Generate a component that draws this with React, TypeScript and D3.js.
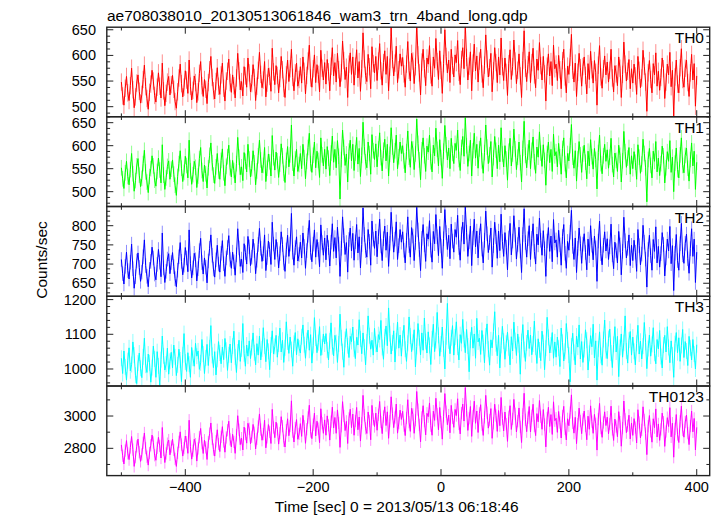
import React from "react";
import * as d3 from "d3";

const title = "ae708038010_20130513061846_wam3_trn_4band_long.qdp";
const xLabel = "Time [sec] 0 = 2013/05/13 06:18:46";
const yLabel = "Counts/sec";
const bandNames = ["TH0", "TH1", "TH2", "TH3", "TH0123"];
const bandColors = ["#ff0000", "#00ff00", "#0000ff", "#00ffff", "#ff00ff"];
const timeStart = -500;
const timeStep = 2;

const th0 = [
  548, 521, 503, 536, 559, 527, 512, 541, 575, 533, 498, 519, 546, 562, 530, 507, 524, 553, 581, 539,
  516, 495, 528, 544, 571, 550, 522, 509, 538, 566, 540, 517, 585, 531, 502, 526, 548, 559, 523, 543,
  561, 534, 510, 497, 529, 556, 583, 545, 519, 538, 570, 552, 526, 591, 540, 513, 532, 560, 547, 508,
  529, 565, 588, 541, 520, 553, 534, 506, 547, 572, 598, 557, 531, 515, 549, 576, 540, 524, 562, 585,
  536, 511, 550, 569, 593, 547, 528, 562, 541, 517, 556, 604, 570, 533, 549, 521, 578, 560, 538, 595,
  566, 529, 545, 582, 557, 512, 540, 571, 606, 563, 537, 552, 588, 519, 546, 575, 559, 530, 614, 568,
  543, 580, 561, 527, 555, 598, 572, 536, 518, 562, 591, 549, 574, 612, 557, 531, 566, 585, 540, 553,
  578, 546, 597, 569, 525, 561, 589, 620, 556, 538, 574, 601, 547, 582, 563, 529, 610, 575, 552, 586,
  544, 592, 568, 531, 579, 615, 560, 586, 548, 604, 572, 539, 566, 628, 590, 553, 577, 518, 583, 605,
  563, 597, 542, 579, 611, 556, 588, 530, 574, 644, 593, 561, 549, 602, 578, 535, 617, 584, 566, 598,
  551, 589, 623, 570, 542, 586, 609, 563, 598, 531, 577, 655, 592, 560, 585, 618, 547, 572, 603, 579,
  596, 564, 538, 583, 627, 571, 550, 604, 589, 545, 578, 662, 601, 566, 523, 587, 612, 574, 541, 595,
  583, 619, 562, 540, 597, 575, 633, 588, 553, 609, 571, 526, 584, 650, 598, 566, 591, 547, 612, 580,
  558, 601, 586, 629, 567, 543, 592, 615, 574, 660, 596, 552, 579, 607, 531, 585, 622, 570, 599, 548,
  589, 612, 564, 537, 581, 640, 593, 558, 576, 604, 529, 570, 615, 586, 547, 597, 562, 634, 578, 551,
  595, 567, 522, 584, 611, 553, 578, 630, 589, 545, 571, 603, 560, 518, 590, 648, 575, 549, 582, 607,
  547, 586, 614, 562, 537, 593, 571, 625, 580, 552, 598, 564, 511, 579, 603, 560, 588, 541, 620, 574,
  583, 551, 600, 572, 535, 590, 612, 558, 527, 579, 563, 596, 641, 571, 548, 585, 520, 567, 604, 576,
  540, 578, 597, 561, 525, 584, 553, 608, 572, 546, 590, 567, 503, 581, 619, 558, 536, 574, 599, 562,
  587, 548, 571, 612, 556, 529, 580, 564, 541, 597, 575, 518, 563, 626, 583, 550, 569, 592, 535, 574,
  546, 583, 560, 524, 598, 571, 537, 556, 610, 579, 548, 491, 566, 590, 553, 527, 584, 562, 605, 540,
  569, 532, 557, 595, 574, 516, 548, 583, 562, 606, 539, 571, 482, 558, 591, 544, 527, 576, 613, 553,
  538, 575, 591, 547, 520, 566, 602, 552, 584, 501, 560,
];

const th1 = [
  552, 528, 507, 541, 566, 533, 515, 548, 583, 539, 501, 524, 556, 572, 536, 511, 529, 561, 590, 543,
  521, 498, 533, 550, 578, 556, 525, 512, 544, 573, 547, 519, 602, 536, 505, 530, 555, 567, 527, 549,
  569, 538, 514, 492, 533, 561, 589, 551, 522, 542, 577, 557, 530, 612, 545, 516, 537, 566, 553, 509,
  534, 572, 596, 546, 522, 558, 539, 508, 552, 579, 606, 563, 536, 518, 554, 583, 545, 527, 568, 593,
  541, 513, 555, 576, 601, 552, 532, 568, 546, 519, 561, 618, 575, 537, 554, 524, 585, 566, 543, 603,
  571, 532, 550, 589, 563, 515, 545, 578, 612, 569, 541, 557, 596, 522, 551, 582, 565, 534, 622, 574,
  547, 586, 567, 531, 560, 604, 578, 540, 520, 568, 598, 554, 580, 645, 562, 534, 571, 592, 544, 559,
  583, 550, 603, 574, 528, 566, 596, 627, 561, 542, 579, 608, 552, 588, 568, 531, 617, 580, 556, 592,
  549, 598, 573, 535, 584, 621, 564, 592, 552, 611, 577, 484, 570, 634, 596, 557, 582, 521, 588, 612,
  567, 603, 546, 584, 618, 560, 594, 533, 579, 651, 598, 565, 552, 608, 583, 538, 624, 589, 570, 604,
  554, 593, 628, 574, 545, 590, 614, 567, 603, 534, 581, 639, 597, 563, 589, 623, 550, 576, 608, 583,
  600, 567, 541, 587, 632, 575, 553, 609, 593, 548, 582, 658, 605, 569, 526, 591, 617, 578, 544, 599,
  586, 623, 565, 543, 601, 578, 638, 592, 556, 613, 574, 529, 588, 644, 602, 569, 595, 550, 616, 583,
  561, 605, 590, 634, 570, 546, 596, 620, 577, 661, 600, 555, 583, 612, 534, 589, 627, 573, 603, 551,
  593, 617, 567, 540, 585, 645, 597, 561, 580, 609, 532, 574, 620, 590, 550, 601, 565, 639, 582, 554,
  600, 571, 525, 588, 616, 556, 582, 636, 593, 548, 575, 608, 563, 521, 594, 653, 579, 552, 586, 612,
  550, 590, 619, 565, 540, 597, 575, 630, 584, 555, 602, 568, 514, 583, 608, 563, 592, 544, 625, 578,
  587, 554, 605, 576, 538, 594, 617, 561, 530, 583, 567, 600, 646, 575, 551, 589, 523, 571, 609, 580,
  542, 582, 601, 564, 528, 588, 556, 613, 576, 549, 594, 570, 506, 585, 623, 561, 539, 578, 603, 566,
  591, 551, 575, 616, 559, 532, 584, 568, 544, 601, 579, 521, 567, 631, 587, 553, 573, 596, 538, 578,
  550, 587, 564, 527, 602, 575, 540, 560, 614, 583, 552, 478, 570, 594, 557, 530, 588, 566, 609, 543,
  573, 535, 561, 599, 578, 519, 552, 587, 566, 611, 542, 575, 500, 562, 595, 548, 530, 580, 617, 557,
  541, 579, 595, 551, 523, 570, 606, 556, 588, 505, 564,
];

const th2 = [
  712, 675, 648, 694, 731, 683, 661, 705, 752, 688, 637, 667, 708, 729, 691, 655, 679, 719, 763, 696,
  668, 641, 686, 707, 744, 716, 674, 659, 699, 738, 705, 667, 781, 690, 652, 681, 713, 727, 675, 704,
  730, 693, 662, 641, 684, 719, 756, 707, 672, 697, 743, 716, 680, 789, 701, 664, 690, 728, 711, 656,
  688, 735, 767, 704, 674, 716, 692, 651, 708, 741, 776, 723, 687, 666, 711, 749, 700, 679, 728, 761,
  701, 668, 716, 743, 774, 712, 689, 731, 706, 671, 724, 792, 742, 694, 713, 678, 753, 730, 700, 772,
  745, 696, 718, 765, 735, 675, 710, 751, 793, 741, 707, 727, 776, 683, 717, 760, 738, 699, 809, 752,
  712, 764, 738, 690, 727, 784, 751, 703, 681, 737, 775, 720, 752, 832, 731, 697, 743, 771, 708, 725,
  757, 716, 781, 746, 689, 735, 775, 814, 730, 706, 752, 789, 718, 764, 738, 693, 802, 756, 723, 768,
  711, 775, 743, 695, 757, 805, 733, 769, 716, 796, 752, 668, 741, 823, 774, 725, 756, 679, 764, 794,
  734, 780, 710, 758, 803, 729, 771, 690, 751, 846, 777, 735, 718, 790, 759, 697, 812, 765, 741, 786,
  719, 771, 817, 747, 709, 766, 799, 736, 783, 694, 754, 835, 778, 731, 765, 810, 712, 748, 790, 757,
  784, 736, 703, 762, 823, 748, 718, 795, 773, 709, 756, 848, 789, 738, 683, 767, 803, 750, 707, 779,
  765, 813, 736, 705, 785, 753, 829, 771, 722, 798, 747, 689, 766, 842, 782, 738, 775, 714, 804, 760,
  731, 790, 770, 827, 743, 710, 778, 809, 752, 850, 783, 720, 758, 799, 696, 768, 817, 745, 786, 716,
  774, 805, 739, 703, 762, 838, 779, 730, 756, 794, 692, 748, 809, 771, 715, 786, 735, 830, 759, 720,
  782, 744, 685, 768, 806, 724, 760, 826, 776, 713, 751, 796, 734, 678, 777, 844, 756, 718, 766, 800,
  712, 767, 805, 733, 700, 778, 750, 820, 762, 723, 787, 740, 668, 760, 795, 733, 773, 706, 816, 755,
  763, 718, 788, 750, 697, 772, 803, 728, 689, 759, 736, 783, 840, 746, 712, 768, 678, 741, 794, 753,
  702, 752, 779, 730, 685, 765, 722, 800, 749, 711, 773, 742, 655, 760, 812, 727, 698, 749, 784, 734,
  766, 712, 745, 804, 724, 688, 757, 735, 703, 785, 750, 672, 733, 822, 761, 716, 741, 776, 696, 749,
  709, 762, 731, 681, 790, 748, 698, 726, 801, 757, 713, 640, 738, 775, 722, 684, 764, 733, 797, 703,
  746, 692, 727, 782, 751, 669, 716, 765, 734, 798, 701, 748, 631, 728, 777, 709, 684, 753, 806, 724,
  702, 754, 778, 714, 676, 740, 792, 720, 765, 652, 731,
];

const th3 = [
  1031, 987, 1052, 1006, 968, 1024, 1061, 995, 1013, 1078, 1040, 982, 958, 1017, 1046, 1002, 975, 1035, 1089, 1011,
  990, 1043, 1018, 962, 1004, 1066, 1029, 976, 1050, 1009, 953, 1027, 1095, 1038, 997, 1014, 1060, 985, 1022, 1048,
  1003, 1069, 1035, 981, 1012, 1057, 1026, 964, 1041, 1102, 1020, 993, 1047, 1014, 976, 1062, 1031, 1008, 1074, 1037,
  1052, 999, 1018, 1085, 1043, 987, 1032, 1071, 1010, 1061, 1125, 1039, 1004, 1050, 983, 1028, 1079, 1046, 1015, 1063,
  1027, 1088, 1054, 996, 1041, 1072, 1018, 1066, 1109, 1035, 990, 1049, 1083, 1022, 1058, 1131, 1044, 1008, 1069, 1037,
  1081, 1030, 1062, 1104, 1047, 1012, 1073, 1040, 1095, 1026, 1058, 1119, 1066, 1021, 1085, 1051, 998, 1069, 1110, 1043,
  1065, 1097, 1034, 1072, 1118, 1049, 1083, 1019, 1061, 1136, 1078, 1045, 1092, 1056, 1008, 1074, 1105, 1041, 1087, 1060,
  1046, 1093, 1127, 1070, 1031, 1082, 1112, 1054, 1099, 1017, 1068, 1148, 1089, 1047, 1076, 1122, 1039, 1063, 1101, 1072,
  1102, 1055, 1026, 1081, 1133, 1064, 1038, 1097, 1076, 1019, 1072, 1158, 1090, 1050, 1005, 1085, 1116, 1067, 1033, 1094,
  1079, 1121, 1058, 1030, 1091, 1069, 1142, 1087, 1044, 1104, 1063, 1012, 1078, 1153, 1096, 1057, 1083, 1040, 1117, 1071,
  1049, 1099, 1085, 1140, 1062, 1028, 1093, 1124, 1067, 1176, 1102, 1043, 1075, 1110, 1020, 1081, 1135, 1060, 1098, 1037,
  1088, 1126, 1057, 1022, 1074, 1150, 1095, 1050, 1077, 1113, 1006, 1065, 1131, 1090, 1041, 1104, 1054, 1147, 1079, 1046,
  1107, 1068, 1013, 1087, 1129, 1050, 1082, 1163, 1097, 1037, 1072, 1121, 1058, 1000, 1093, 1189, 1081, 1044, 1090, 1125,
  1040, 1092, 1136, 1063, 1026, 1099, 1074, 1143, 1085, 1047, 1114, 1066, 992, 1083, 1120, 1060, 1101, 1031, 1146, 1078,
  1089, 1042, 1111, 1076, 1018, 1095, 1130, 1057, 1011, 1084, 1061, 1108, 1165, 1073, 1038, 1097, 1003, 1068, 1123, 1080,
  1028, 1074, 1106, 1061, 1012, 1093, 1052, 1135, 1082, 1039, 1101, 1070, 985, 1079, 1128, 1056, 1022, 1075, 1112, 1059,
  1098, 1041, 1072, 1138, 1063, 1016, 1087, 1055, 1024, 1109, 1076, 998, 1060, 1149, 1091, 1046, 1069, 1105, 1031, 1078,
  1034, 1092, 1060, 1007, 1118, 1077, 1023, 1051, 1131, 1084, 1040, 963, 1066, 1103, 1048, 1012, 1095, 1063, 1127, 1029,
  1079, 1019, 1056, 1113, 1083, 997, 1045, 1096, 1064, 1129, 1032, 1081, 968, 1058, 1107, 1039, 1011, 1085, 1141, 1053,
  1030, 1088, 1115, 1046, 1004, 1071, 1122, 1049, 1094, 978, 1062, 1101, 1034, 1076, 1153, 1052, 1017, 1083, 1108, 1040,
  1092, 1051, 1012, 1074, 1126, 1043, 1080, 1029, 1066, 1134, 1077, 1001, 1059, 1098, 1037, 1071, 1119, 1045, 1015, 1085,
  1058, 1111, 1036, 1003, 1069, 1097, 1049, 1122, 1062, 1018, 1081, 1040, 976, 1073, 1105, 1047, 1090, 1022, 1068, 1114,
  1033, 1079, 1052, 1010, 1094, 1061, 1026, 1085, 1043, 1000, 1070,
];

const th0123 = [
  2821, 2754, 2703, 2786, 2848, 2769, 2730, 2805, 2873, 2792, 2688, 2745, 2812, 2857, 2776, 2719, 2762, 2834, 2895, 2801,
  2748, 2696, 2771, 2819, 2882, 2836, 2757, 2726, 2803, 2868, 2815, 2740, 2929, 2790, 2712, 2768, 2829, 2851, 2760, 2811,
  2857, 2790, 2735, 2688, 2772, 2840, 2902, 2823, 2752, 2801, 2876, 2838, 2769, 2974, 2812, 2733, 2785, 2856, 2826, 2721,
  2799, 2869, 2923, 2832, 2768, 2850, 2806, 2731, 2838, 2891, 2957, 2859, 2792, 2752, 2843, 2915, 2827, 2780, 2871, 2934,
  2842, 2776, 2867, 2912, 2968, 2855, 2809, 2887, 2840, 2769, 2881, 3002, 2915, 2823, 2863, 2790, 2931, 2889, 2832, 2955,
  2921, 2828, 2871, 2948, 2897, 2796, 2859, 2935, 3013, 2916, 2850, 2888, 2974, 2803, 2868, 2947, 2902, 2830, 3041, 2929,
  2866, 2962, 2917, 2826, 2894, 2996, 2937, 2847, 2808, 2912, 2983, 2878, 2938, 3094, 2903, 2839, 2925, 2978, 2856, 2889,
  2953, 2874, 3004, 2937, 2831, 2918, 2991, 3067, 2904, 2860, 2946, 3018, 2877, 2968, 2922, 2835, 3045, 2955, 2893, 2976,
  2881, 3001, 2942, 2851, 2965, 3055, 2926, 2991, 2893, 3038, 2957, 2806, 2937, 3089, 3000, 2910, 2967, 2830, 2985, 3042,
  2928, 3012, 2881, 2969, 3053, 2915, 2994, 2845, 2955, 3128, 3004, 2924, 2892, 3025, 2970, 2853, 3066, 2980, 2935, 3018,
  2912, 3008, 3090, 2963, 2891, 2997, 3057, 2941, 3026, 2862, 2968, 3119, 3015, 2928, 2991, 3074, 2894, 2957, 3036, 2979,
  3029, 2941, 2879, 2988, 3101, 2962, 2905, 3048, 3010, 2893, 2974, 3152, 3040, 2945, 2840, 2992, 3064, 2968, 2883, 3017,
  2996, 3081, 2940, 2881, 3030, 2973, 3110, 3012, 2915, 3053, 2962, 2857, 2998, 3139, 3027, 2946, 3006, 2896, 3066, 2989,
  2930, 3041, 3003, 3107, 2951, 2889, 3018, 3074, 2969, 3176, 3035, 2911, 2986, 3059, 2874, 3000, 3092, 2955, 3031, 2898,
  3016, 3070, 2947, 2880, 2992, 3128, 3021, 2925, 2974, 3046, 2862, 2955, 3073, 3003, 2905, 3034, 2940, 3115, 2984, 2908,
  3025, 2950, 2843, 2996, 3064, 2917, 2982, 3103, 3014, 2901, 2968, 3050, 2932, 2836, 3010, 3141, 2977, 2903, 2990, 3059,
  2901, 3002, 3073, 2938, 2879, 3015, 2964, 3096, 2995, 2918, 3040, 2947, 2809, 2988, 3054, 2935, 3009, 2886, 3088, 2971,
  2986, 2899, 3028, 2960, 2864, 3000, 3060, 2921, 2852, 2983, 2940, 3021, 3131, 2957, 2894, 2992, 2829, 2950, 3049, 2969,
  2891, 2979, 3031, 2938, 2853, 2999, 2918, 3063, 2965, 2893, 3010, 2952, 2789, 2981, 3078, 2925, 2868, 2960, 3026, 2941,
  2993, 2890, 2950, 3061, 2917, 2849, 2981, 2935, 2872, 3027, 2962, 2813, 2925, 3093, 2980, 2897, 2940, 3005, 2858, 2957,
  2880, 2984, 2929, 2833, 3039, 2960, 2864, 2914, 3057, 2976, 2891, 2761, 2937, 3003, 2905, 2838, 2983, 2928, 3044, 2870,
  2951, 2849, 2917, 3018, 2962, 2812, 2904, 2990, 2935, 3052, 2871, 2956, 2745, 2920, 3009, 2885, 2836, 2967, 3061, 2914,
  2869, 2963, 3006, 2894, 2823, 2938, 3031, 2902, 2985, 2790, 2930,
];

const bandValues = [th0, th1, th2, th3, th0123];
const bandErrors = [17, 17, 19, 23, 38];
const yDomains = [
  [480.5, 655],
  [467.8, 663],
  [616, 850],
  [951, 1209.5],
  [2631, 3186],
];
const yMajorTicks = [
  [500, 550, 600, 650],
  [500, 550, 600, 650],
  [650, 700, 750, 800],
  [1000, 1100, 1200],
  [2800, 3000],
];
const yMinorSteps = [12.5, 12.5, 12.5, 20, 100];
const xDomain = [-522.8, 420.3];
const xMajorTicks = [-400, -200, 0, 200, 400];
const xMinorTicks = [-500, -300, -100, 100, 300];

const W = 724;
const H = 516;
const left = 106.8;
const right = 709.7;
const panelEdges = [27.2, 116.7, 206.5, 296.3, 386, 475.6];
const FONT = "'Liberation Sans', Arial, Helvetica, sans-serif";
const frameColor = "#222";

function fmt(v: number) {
  return v < 0 ? "\u2212" + Math.abs(v) : String(v);
}

export default function App() {
  const x = d3.scaleLinear().domain(xDomain).range([left, right]);

  const panels = bandValues.map((vals, p) => {
    const top = panelEdges[p];
    const bottom = panelEdges[p + 1];
    const y = d3.scaleLinear().domain(yDomains[p]).range([bottom, top]);
    const pts = vals.map((v, i) => ({ t: timeStart + i * timeStep, v }));
    const line = d3
      .line<{ t: number; v: number }>()
      .x((d) => x(d.t))
      .y((d) => y(d.v));
    const err = bandErrors[p];
    const errPath = pts
      .map((d) => `M${x(d.t).toFixed(2)},${y(d.v - err).toFixed(2)}V${y(d.v + err).toFixed(2)}`)
      .join("");
    const [d0, d1] = yDomains[p];
    const step = yMinorSteps[p];
    const minor: number[] = [];
    for (let v = Math.ceil(d0 / step) * step; v <= d1; v += step) {
      if (!yMajorTicks[p].some((m) => Math.abs(m - v) < 1e-6)) minor.push(v);
    }
    const majors = yMajorTicks[p].filter((v) => v >= d0 && v <= d1 + 1e-6);
    return { top, bottom, y, line: line(pts) || "", errPath, minor, majors, p };
  });

  return (
    <div style={{ position: "absolute", left: 0, top: 0 }}>
      <svg width={W} height={H} style={{ display: "block", background: "#fff" }} fontFamily={FONT}>
        <defs>
          {panels.map((pn) => (
            <clipPath id={`clip${pn.p}`} key={pn.p}>
              <rect x={left} y={pn.top} width={right - left} height={pn.bottom - pn.top} />
            </clipPath>
          ))}
        </defs>
        <text x={107} y={21} fontSize={15.5} fill="#000">
          {title}
        </text>
        {panels.map((pn) => (
          <g key={pn.p}>
            <g clipPath={`url(#clip${pn.p})`}>
              <path d={pn.errPath} stroke={bandColors[pn.p]} strokeOpacity={0.45} strokeWidth={1} fill="none" />
              <path d={pn.line} stroke={bandColors[pn.p]} strokeWidth={1} fill="none" />
            </g>
            {pn.majors.map((v) => (
              <g key={"M" + v}>
                <line x1={left} x2={left + 6.5} y1={pn.y(v)} y2={pn.y(v)} stroke={frameColor} strokeWidth={1} />
                <line x1={right} x2={right - 6.5} y1={pn.y(v)} y2={pn.y(v)} stroke={frameColor} strokeWidth={1} />
                <text x={96} y={pn.y(v) + 5} fontSize={14.5} textAnchor="end" fill="#000">
                  {fmt(v)}
                </text>
              </g>
            ))}
            {pn.minor.map((v) => (
              <g key={"m" + v}>
                <line x1={left} x2={left + 3.3} y1={pn.y(v)} y2={pn.y(v)} stroke={frameColor} strokeWidth={1} />
                <line x1={right} x2={right - 3.3} y1={pn.y(v)} y2={pn.y(v)} stroke={frameColor} strokeWidth={1} />
              </g>
            ))}
            {xMajorTicks.map((t) => (
              <g key={"xt" + t}>
                <line x1={x(t)} x2={x(t)} y1={pn.bottom} y2={pn.bottom - 6.5} stroke={frameColor} strokeWidth={1} />
                <line x1={x(t)} x2={x(t)} y1={pn.top} y2={pn.top + 6.5} stroke={frameColor} strokeWidth={1} />
              </g>
            ))}
            {xMinorTicks.map((t) => (
              <g key={"xm" + t}>
                <line x1={x(t)} x2={x(t)} y1={pn.bottom} y2={pn.bottom - 3.3} stroke={frameColor} strokeWidth={1} />
                <line x1={x(t)} x2={x(t)} y1={pn.top} y2={pn.top + 3.3} stroke={frameColor} strokeWidth={1} />
              </g>
            ))}
            <rect
              x={left}
              y={pn.top}
              width={right - left}
              height={pn.bottom - pn.top}
              fill="none"
              stroke={frameColor}
              strokeWidth={1.4}
            />
            <text x={704} y={pn.top + 16} fontSize={15.5} textAnchor="end" fill="#000">
              {bandNames[pn.p]}
            </text>
          </g>
        ))}
        {xMajorTicks.map((t) => (
          <text key={"xl" + t} x={x(t)} y={492} fontSize={14.5} textAnchor="middle" fill="#000">
            {fmt(t)}
          </text>
        ))}
        <text x={396.7} y={512} fontSize={15.5} textAnchor="middle" fill="#000">
          {xLabel}
        </text>
        <text transform="translate(46.5,260) rotate(-90)" fontSize={15.5} textAnchor="middle" fill="#000">
          {yLabel}
        </text>
      </svg>
    </div>
  );
}
